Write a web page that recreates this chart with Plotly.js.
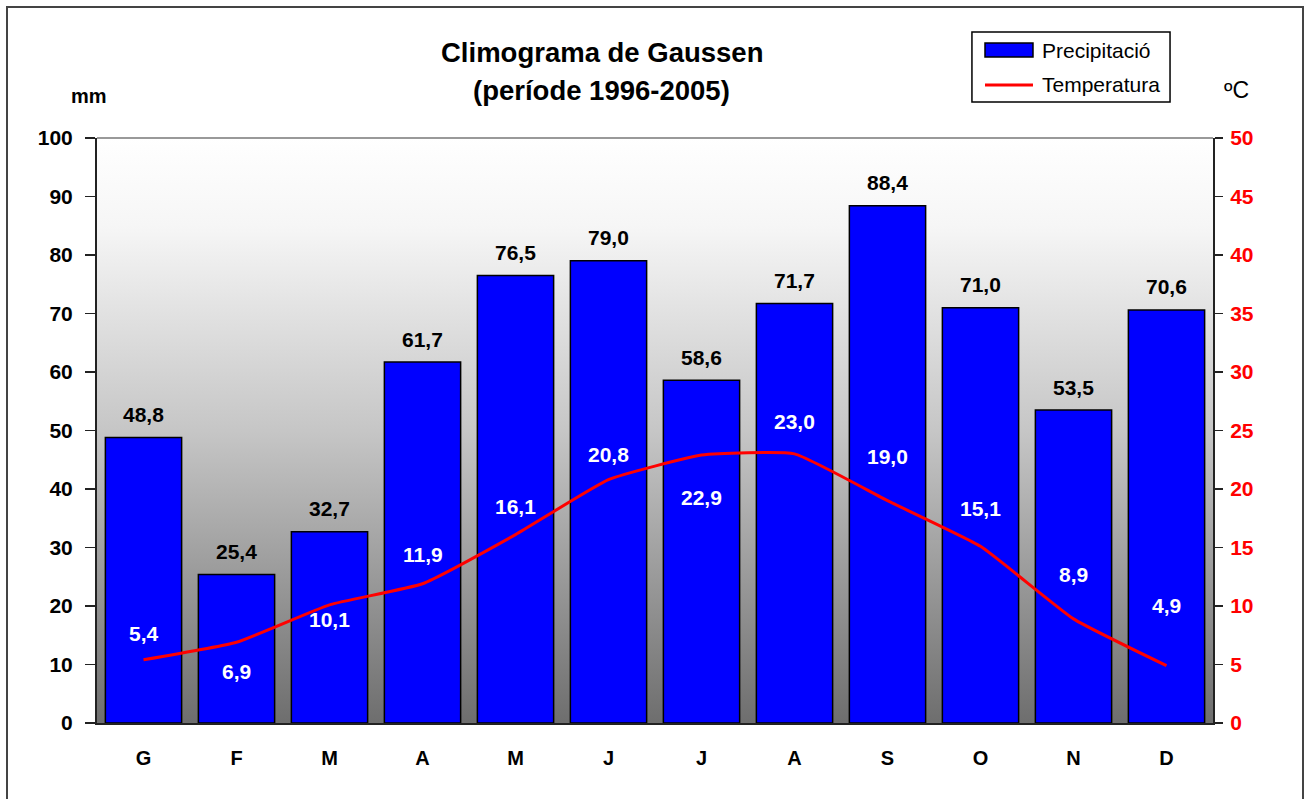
<!DOCTYPE html>
<html>
<head>
<meta charset="utf-8">
<script src="https://cdn.plot.ly/plotly-3.0.1.min.js"></script>
<style>
  html, body { margin: 0; padding: 0; background: #fff; }
  #frame { position: absolute; left: 6px; top: 6px; width: 1298px; height: 820px;
           border: 2px solid #444; box-sizing: border-box; pointer-events: none; z-index: 5; }
  #chart { width: 1308px; height: 799px; }
</style>
</head>
<body>
<div id="frame"></div>
<div id="chart"></div>
<script>
// mesos (inicials en català)
const mesos = ['G', 'F', 'M', 'A', 'M', 'J', 'J', 'A', 'S', 'O', 'N', 'D'];
// precipitació mitjana mensual (mm)
const precipitacio = [48.8, 25.4, 32.7, 61.7, 76.5, 79.0, 58.6, 71.7, 88.4, 71.0, 53.5, 70.6];
// temperatura mitjana mensual (ºC)
const temperatura = [5.4, 6.9, 10.1, 11.9, 16.1, 20.8, 22.9, 23.0, 19.0, 15.1, 8.9, 4.9];

const idx = mesos.map((_, i) => i);
const fmt = v => v.toFixed(1).replace('.', ',');

// desplaçament vertical (px) de les etiquetes de temperatura, com a l'original
const desplTemp = [26, -29, -15, 29, 28, 25, -42, 32, 44, 38, 44, 60];

const FONT = '"Liberation Sans", Arial, sans-serif';

// fons en degradat (blanc a dalt, gris a baix)
const degradat = 'data:image/svg+xml;utf8,' + encodeURIComponent(
  '<svg xmlns="http://www.w3.org/2000/svg" width="10" height="100" preserveAspectRatio="none">' +
  '<defs><linearGradient id="g" x1="0" y1="0" x2="0" y2="1">' +
  '<stop offset="0" stop-color="#ffffff"/><stop offset="0.15" stop-color="#f6f6f6"/>' +
  '<stop offset="0.5" stop-color="#c6c6c6"/><stop offset="1" stop-color="#6e6e6e"/>' +
  '</linearGradient></defs><rect width="10" height="100" fill="url(#g)"/></svg>');

const barres = {
  x: idx,
  y: precipitacio,
  type: 'bar',
  name: 'Precipitació',
  marker: { color: '#0000ff', line: { color: '#000', width: 1.5 } }
};

const linia = {
  x: idx,
  y: temperatura,
  type: 'scatter',
  mode: 'lines',
  name: 'Temperatura',
  yaxis: 'y2',
  line: { color: '#ff0000', width: 3, shape: 'spline', smoothing: 0.4 }
};

const anotacions = [];
precipitacio.forEach((v, i) => {
  anotacions.push({
    x: i, y: v, xref: 'x', yref: 'y', text: fmt(v), showarrow: false,
    yanchor: 'middle', yshift: 23,
    font: { family: FONT, size: 21, color: '#000', weight: 'bold' }
  });
});
temperatura.forEach((v, i) => {
  anotacions.push({
    x: i, y: v, xref: 'x', yref: 'y2', text: fmt(v), showarrow: false,
    yanchor: 'middle', yshift: desplTemp[i],
    font: { family: FONT, size: 21, color: '#fff', weight: 'bold' }
  });
});

const P = (x, y, text, size, extra) => Object.assign({
  xref: 'paper', yref: 'paper', x: x, y: y, text: text, showarrow: false,
  xanchor: 'center', yanchor: 'middle', font: { family: FONT, size: size, color: '#000' }
}, extra || {});

anotacions.push(
  P(0.4525, 1.147, '<b>Climograma de Gaussen</b>', 27.5),
  P(0.4525, 1.082, '<b>(període 1996-2005)</b>', 27.5),
  P(-0.007, 1.072, '<b>mm</b>', 20),
  P(1.0215, 1.082, 'ºC', 23),
  // llegenda
  P(0.845, 1.1504, 'Precipitació', 21, { xanchor: 'left' }),
  P(0.845, 1.0906, 'Temperatura', 21, { xanchor: 'left' })
);

const layout = {
  width: 1308,
  height: 799,
  margin: { l: 97, r: 95, t: 138, b: 76 },
  paper_bgcolor: '#fff',
  plot_bgcolor: 'rgba(0,0,0,0)',
  font: { family: FONT, color: '#000' },
  bargap: 0.18,
  showlegend: false,
  xaxis: {
    range: [-0.5, 11.5],
    tickvals: idx,
    ticktext: mesos,
    ticks: '',
    showgrid: false,
    zeroline: false,
    showline: true, linecolor: '#222', linewidth: 2,
    tickfont: { family: FONT, size: 20, color: '#000', weight: 'bold' },
    ticklabelstandoff: 16,
    fixedrange: true
  },
  xaxis2: {
    overlaying: 'x',
    anchor: 'y',
    side: 'bottom',
    range: [-0.5, 11.5],
    tickvals: idx.concat([12]).map(i => i - 0.5),
    showticklabels: false,
    ticks: 'outside', ticklen: 8, tickwidth: 1.5, tickcolor: '#222',
    showgrid: false, zeroline: false, showline: false
  },
  yaxis: {
    range: [0, 100],
    dtick: 10,
    ticks: 'outside', ticklen: 10, tickwidth: 1.5, tickcolor: '#222',
    showgrid: false, zeroline: false,
    showline: true, linecolor: '#222', linewidth: 2,
    tickfont: { family: FONT, size: 21, color: '#000', weight: 'bold' },
    ticklabelstandoff: 8
  },
  yaxis2: {
    range: [0, 50],
    dtick: 5,
    overlaying: 'y',
    side: 'right',
    ticks: 'outside', ticklen: 8, tickwidth: 1.5, tickcolor: '#222',
    showgrid: false, zeroline: false,
    showline: true, linecolor: '#222', linewidth: 2,
    tickfont: { family: FONT, size: 21, color: '#ff0000', weight: 'bold' },
    ticklabelstandoff: 3
  },
  images: [{
    source: degradat, xref: 'paper', yref: 'paper', x: 0, y: 1, sizex: 1, sizey: 1,
    sizing: 'stretch', layer: 'below', xanchor: 'left', yanchor: 'top'
  }],
  shapes: [
    { type: 'line', xref: 'paper', yref: 'paper', x0: 0, x1: 1, y0: 1, y1: 1,
      line: { color: '#999', width: 2 }, layer: 'below' },
    // caixa de la llegenda
    { type: 'rect', xref: 'paper', yref: 'paper', x0: 0.784, x1: 0.9615, y0: 1.0615, y1: 1.181,
      fillcolor: '#fff', line: { color: '#000', width: 1.5 } },
    { type: 'rect', xref: 'paper', yref: 'paper', x0: 0.7957, x1: 0.8387, y0: 1.1385, y1: 1.1624,
      fillcolor: '#0000ff', line: { color: '#000', width: 1.5 } },
    { type: 'line', xref: 'paper', yref: 'paper', x0: 0.7957, x1: 0.8387, y0: 1.0906, y1: 1.0906,
      line: { color: '#ff0000', width: 3 } }
  ],
  annotations: anotacions
};

Plotly.newPlot('chart', [barres, linia], layout, { displayModeBar: false, staticPlot: true });
</script>
</body>
</html>
